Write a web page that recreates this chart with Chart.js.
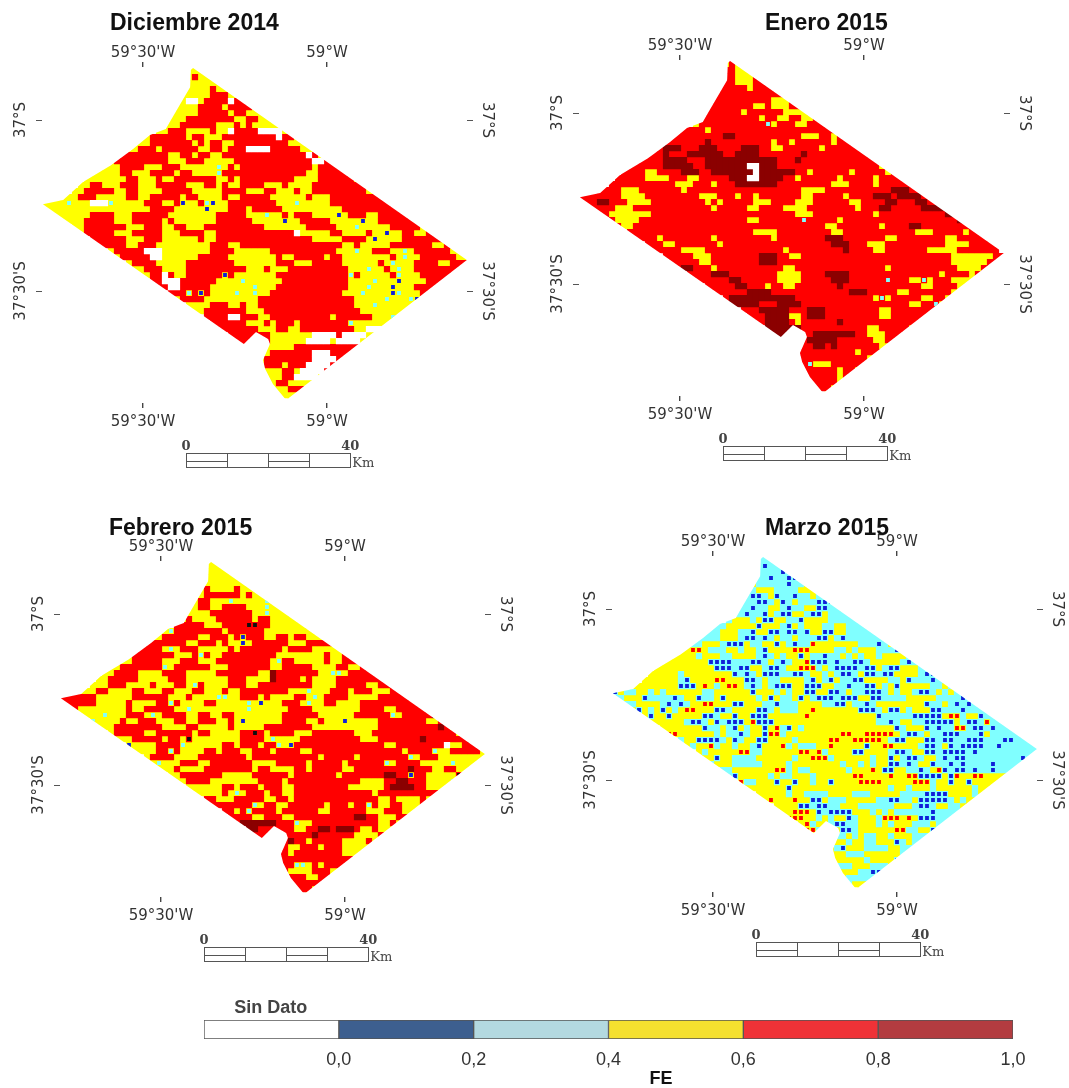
<!DOCTYPE html>
<html>
<head>
<meta charset="utf-8">
<title>FE</title>
<script src="https://cdn.jsdelivr.net/npm/chart.js@4"></script>
<style>
  html, body { margin: 0; background: #fff; }
  canvas { position: absolute; filter: blur(0.5px); }
</style>
</head>
<body>
<canvas id="dic"></canvas>
<canvas id="ene"></canvas>
<canvas id="feb"></canvas>
<canvas id="mar"></canvas>
<canvas id="leyenda"></canvas>
<script>
// axes
const lonTicks = [-59.5, -59];
const lonLabels = ["59°30'W", "59°W"];
const latTicks = [-37, -37.5];
const latLabels = ["37°S", "37°30'S"];

// study area border
const outlineLon = [-59.364, -58.620, -59.111, -59.147, -59.168, -59.174, -59.155, -59.160, -59.193, -59.226, -59.772, -59.717, -59.663, -59.587, -59.527, -59.481, -59.438, -59.424, -59.372, -59.370];
const outlineLat = [-36.848, -37.409, -37.819, -37.772, -37.728, -37.702, -37.655, -37.640, -37.620, -37.655, -37.246, -37.234, -37.181, -37.132, -37.085, -37.044, -37.026, -37.000, -36.904, -36.854];

// raster classes: y 0,4-0,6  r 0,6-0,8  d 0,8-1,0  c 0,2-0,4  b 0,0-0,2  k black  w sin dato
const rasterCodes = ['y', 'r', 'd', 'c', 'b', 'k', 'w'];
const rasterColors = ['#ffff00', '#ff0000', '#8b0000', '#80ffff', '#1020d8', '#101010', '#ffffff'];

// first column of every raster row, shared by the four months
const rowStarts = [24,24,24,24,23,22,22,21,21,20,19,17,15,14,12,11,9,8,7,6,5,3,0,0,2,3,5,6,8,9,11,12,14,15,16,18,19,21,22,24,25,27,28,29,31,32,36,36,36,36,36,37,37,38,39,41];

const decRows = [
"yyyy","yryyy","yyyyyyyy","yyyyryyyy","yyyyyrrryyy","yywwyrrrrwrrr","yyyyrrrryrrrryy","yyyyyrrrrryrryyyy","yyyrrrrrrrryyrryyyy","yyyrrrrrryyyryryyyyyy",
"yyrrryyyyryywrrrrwwwwyy","yrrrrrryrryyyrrrrrrrrrwrryy","yyyrrrrrrryryrryyrrrrrrrrryyyy","yyrrryrrrrrryyrryrrrwwwwrrrrryyy","rrrrrrrrryyrryrryyrrrrrrrrrrrrrrwryy",
"yrrrrrrrrryyyrrryyyyyrrrrrrrrrrrrrwwryy","yyyyrrrryyyrrryyyyyycyryrrrrrrrrrrrryrrrryy","yyyyyrryyyrrrryrryyyycrrrrrrrrrrrrrryyrrrrryy","yyyyyyyrryyyryyrrrrrrryyryrrrrrrrrryyyyrrrrrryy","yyrryyyrrryyyrrrrryyyrryryyrrrryyyryyyyrrrrrrrrryyyyy",
"yyrrrrryyrryyyyrrrrryyyyyrrrryyyrryyyryyrrrrrrrrryyyyy","yyyrrryyyyyrryyrrrrryrryyyyryyrrrrryyyyyyryyyrrrrrrrrryyyyy","yyyycyyywwwcyyyyyrrryyrbyyrcbyyrrrrrrrryyycyyyyyrrrrrrrrrrryyyyy","yyyyyyyyyyyyyyyyyyrrrryyyyybyyyrrryrrrrryyyyyyyyyyrrrrrrrrrryyyyy","yyyyyyrrrryyyrrrrrryyyyyyyyrrrrryyycyyryrrryyyybyrrryyrrrrrryyyyy",
"yyyyrrrrryyyrrrrryryyyyyyyrrrrrryyyyybyyrrrrryyyyybyyrrrrrrryyyyy","yyrrrrrrryyyrrryyrryyyrrrrrrrrrryyyyyyyrrrrryyycyyyyyrrrrryyyyyy","yrrrrryyyrrrrryyyrrrryyrrrrrrrrrrrrrwyyyyyrryyyyryybyyrryyrrrryyyyy","rrrrrryyyrrryyyyyyryyrrrrrrrrrrrrrrrryyyyyrrrrybyyyyrrrrrrryyyyyy","rrrrryyrrryyyyyyyyyrrryyrrrrrrrrrrrrrrrrryyryyyyyrrrrrrryyrrrrrrrr",
"yrrrrrwwwyyyyyyyyrrrryyyyyyrrrrrrrrrrryyycyyrrryycyrrrrrryyrrrrrr","yrrrrrwwyyyyyyrrrrryyyyyyyyryyrrrrryrryyyyyyyyrycyyrrrrrryyyyrrrrrr","yrrrryyyyyrrrrrrrryyyyyyyrrryyyrrrrryyyyyyrycyyyrrrryyrrrrrrrrrrrrrr","yyrrryyyyrrrrrrrrrryyyryyyrrrrrrrrrryyycyyrycyyrrrrrrrrrrrrrrrrrrrrr","yyrrwryyrrrrrrbryyyyyyyrrrrrrrrrrrrcryyyyyrcyyyrrrrrrrrrrrryyyrrrrr",
"rrwwwrrrrrryyyycyyyyyyrrrrrrrrrrryyyycyyybyyyyrrrrrrrrrrrryyrrrrr","rrwwrrrrryyyyyyycyyyrrrrrrrrrrrryyycyyybyyyrrrrrrrrrrrryrrrrr","rrrcrbryyyycyycyyrrrrrrrrrrrryyycyyyybcyyyrrrrrrrryyyrrrr","yrrrryyyyyyyyyrrrrrrrrrrrrrrrryyyyycyyycbyyyrrrryyyrrrr","yyyyrrryyryyrrrrrrrrrrrrrrrryyycyyyyyyrrryyyyyrrrr",
"yyrrrrrrryyyrrrrrrrrrrrrrrrryyyyyyyyrrrryyyyrrrr","rrrrwwrrryyrrrrrrrrrryrrrrrryyycyyyyyrryyrrrr","rrrrrryyyryrrryrrrrrrrrcyyyyyyyyyyyyrrrr","rrrrrrryyyrryyrrrrrrrrryywwwrryyyyyy","rrrrrrryyyyyyywwwwrwwwwyyyyyyy",
"rrrrrryyyyyywwwwywwwwyyyyyy","yyyyyyrrrrrrrrrrryyyyyy","yyrrrrrrrwwwrrrrryyy","yrrrrrrrrwwwwrrryyyy","yrrryrrrwwwwrrrrrr",
"yyyyrrywwwwrrrrrrr","yyyrrwwwwyyyyy","yyrryyyyyyyyyyy","yyyrrryyyy","yyyyy","yyy"
];

const janRows = [
"yryy","rryyy","rryyyrrr","rryyyrrrr","rrrrryrrrrr","yrrrrrrrrrrrr","rrrrrrrrrryyyrr","rrrrrrrryyryyyrrrr","rrrrrryrrrrrryyyyyrr","rrrrrrrrrryrryyrryyrrrr",
"yrrrrrrrrrrrcyrrryyrrrrr","rrrryrrrrrrrrrrrrrrrrrrrrrrr","rrrrrrrrrddrrrrrrrrrrryyyrryrr","rrrrrrrdrrrrrrrrrryrryrrrrrryrrrrr","rrdddrrrdddrrrrdddrryyrrrrrryrrrrrrrrr",
"rrrdrrrddddddrrddddrrrrrrrdrrrrrrrrrrrrrryyrr","rrrrrddddrrrddddddddddddrrrdrrrrrrrrrrrrrrryyrrr","rrrrrrdddddrrdddddddwwdddrrrrrrrrrrrrrrrrryrrrrr","rrrryyrrrrdddrrdddddddwddddddrryrrrrrryrrrrryrrrrrr","rrrrryyyyrrryyrrrrrdddwwddddrryrrrrrryrrrrryrrrrrrr",
"rrrrrrrrrrryyyrrryrrrdddddddrrrrrrrrryyyrrrryrrrrrrrrrrrr","rrrryyyrrrrrrryrrrrrrrrrrrrrrrrrrryyyyrrrrrrrrrrrdddrrrrrrrrrr","rrrrrrryyyyrrrrrrrrryyyrrryrryrrrrrrryyrrrrryrrrrdddrddddrrrrrrrr","rrrddrrryyyyrrrrrrrrryryrrrrryyyrrrryyyrrrrrryyrrrrddrrrddrrrdrrrr","rrrryyyrrrrrrrrrrrrryrrrrryyrrrryyyyrrrrrrrryrrrddrrrrrdddddrrrrr",
"rryyyyyyyrrrrrrrrrrrrrrrrrrrrrrrryyyrrrrrrrrrryrrrrrrrrrrrdddddrrrrr","ryyyyrrrrrrrrrrrrrrrrrryyrrrrrrrcrrrrryrrrrrrrrrrrrrrrrrrrdddddrrrrr","ryyrrrrrrrrrrrrrrrrrrrrrrrrrrrrrrrryyrrrrrrryrrrrddrrrrrrrrrrrrr","rrrrrrrrrrrrrrrrrrrrryyyyrrrrrrrrryyrrrrrrrrrrrryyyrrrrryrrrrr","rrrryrrrrrrrryrrrrrrrrryrrrrrrrrdddrrrrrrryyrrrrrrrryyrrrrrrr",
"rrryyrrrrrrryrrrrrrrrrrrrrrrrrrdddrrryyyrrrrrrrrrryyyyrrrrr","rrrrryyyyrrrrrrrrrrrrryrrrrrrrrrdrrrryyrrrrrrryyyyyrrrrrrr","rrrrryyyrrrrrrrrdddrryyrrrrrrrrrrrrrrrrrrrrrrrrryyyyyyyrrrrr","rrrrryyrrrrrrrrdddrrrrrrrrrrrrrrrrrrrrrrrrrrrrryyyyyyrrrrrr","rddrrryrrrrrrrrrrryyrrrrrrrrrrrrrrryrrrrrrrrrrryyyyrrrrrr",
"rrrrdddrrrrrrrryyyyrrrrddddrrrrrrrrrrrrrrryrrrryrrrrrrr","rrrrrrddrrrrrryyyyrrrrrdddrrrrrrcrrryycyrrryyyyyrrrrrrrr","rrrrrddrrryrryyrrrrrrrdrrrrrrrrrrrrryyrrrryyrrrrrrrrrr","rrrrrrddddrrrrrrrrrrrrrdddrrrrryyrrrrrrryyrrrrrrr","rdddddddddddrrrrrrrrrrrrrycyrrrrryyrryyyrrrrrr",
"dddddrrrddddrrrrrrrrrrrrrrrrrryyrrcyyrrrrrr","rrrdddddrrrdddrrrrrrrrryyrrrrrrrcrrrrrrr","rrrddddyyrdddrrrrrrrrryyrrrrrrrrrrr","rrddddryrrrrrrdrrrrrrrrrrrrrryrrrr","ddddddrrrrrrrrrrryyrrrrryyrrrr",
"dddrrrrdddddddrryyyrrrdrrr","rrdddddrrrrrryyrrr","rrrddrdrrrrrrryyyrr","rrrrrrrrrryrrrrrr","rrrrrrrrrrrryyrr",
"rrcyyyrrrrrrrryr","rrrrrryrryrryr","rrrrrryrryyyr","rrrrryyrr","rrryyyy","yyy"
];

const febRows = [
"yyyy","yyyyy","yyyyyyyy","yyyyyyyyyy","yryyyyryyyyy","yyrrrrrryryycyy","yrryyycyyyyycyyy","yyrryyrrrryyycyyrryy","yyyyrrrrrrryycyyyyrryy","yryyyyrrrrrryrryyyyyryy",
"rrrrryyyrrrrkkrryyyyyyryy","ycrrrrrrrryrrrrrryyyyyyyyycyy","yyrrrrrryyrrryrbrrryyrryrryyyycyy","rrrrrrryyrrryryybyrrrrrryyyrrrrrryyyyy","rrrrrycyrrryyyyyryrrrrrrryrrrryyyyyyrryyyyy",
"yrrrrrrryyyrcryyrrrrrrrrryyyyyyyyryyrrryyyyy","yyyrrrrryyyrrryyyrrrrrrrrrycrryyyyyryyrrrrrrcryyy","yyrrrrrrrcyrrrrrryyyrrrrrrryyrrrrryyyyrryyrrrrryrry","yyrrrryyyyrrrryyyyyrrrrrrryydrrrrrrryyccyrrrrrrrrrrrryy","yyrrrrryyyyyrrryyyyyyyrrryyyydrrrryryyyyrrrrrrrrrryrrrrry",
"yyyrrryyyyryyyrrycryyyyrrryyrrrrrrrrryyyyrrrrryyrrrrryyrrrryy","yyyrryyyyrryyyrryyyrryyyryyrrrrrrrryyycyyyrrryrrryyyrryyrrrrrrryy","rrrrrryyyyyyrrrrrryyyryyyyccyyrrryryyyyrrycyrrrryyyyyrrrrrrrrrdyrdrrr","rrrrrryyyyyryyyyrrcryyyyrryyyyycybyyyrrrycyyrryyyyrrrrrrrrrrrrdkyyrrrr","ryyyyyyyyryyrrrrryycyyyyyyyyycyyyyyyrrrryyyyyyyyrrrryyrrrrrrrddrrrrr",
"yyyycyyyrrrycyrrrryyrryyrryyyyyyyyrrrrrryyyyyyrrrrrrcyrrrrrdddrrryrrr","cyyyyryyrrryyyrryyrrryyrybyyyyyyrrrryyryyybyyyyyrrrrrrrryyrrddrryrrr","yyyrrrrrrrryyyyrryyyyyryyyyyrrrrrrrryyyyyyyyyyyrrrrrrrrrrdryrrryyrrrr","yrrrrryyrrrrrryrryyyyyrrkryrrrryyyrrrrrrryyyrrrrrrrrrrrrrryrrddrr","yyyrrrrryrrykyyyyyyyyrrrrycyyyyrrrrrrrrrryyyrrrrrrrdrrrrrrrddrrr",
"byyyyrrrrcyyyyyyrryrrryrrcybrrrrrrrrrrrrrrryyrrrrrrrrwyyrrrrrrrrrr","yyyyrrcryyyyrryrrryyrrryrrrryyrrrrrrrrrrrrrrryrrrrcyyrrrrryyrrrrrr","yrrrryyyyrrrrrrrryrrrrrrrrrrryrrrrryrrrrrrrrcyrrryyyyyyyyyyrryrrrrr","ycyyyrrryyrrrrrrryyyyrrrrryrrrrryrrrrrrcyrrrryyyyycyyyyyrrryyrrrrr","yyyryyyyrrrrrrrryrryyyyrryrrrrryyrrrrrrrrrdrrryyrryyyyyyrryrrrr",
"yyrrrrrrryyyyyrrrrrryrrrrrrryrrrrrrrddrrbrryyyyykyyyyyyryyrrr","yyrrrryyyyyyyyrrrryrrrrrrrrrrrryyyyrrddrrryyyycyyyyyyyyrrrr","yyyyyyrryrrryrrryyrrrrrrrrryyyyyyrddddrryyyyyyyyyrrrrrrr","yyyyyrycyrrryrryyrrrrrrrrrrrrryrrrrrrrrrryyryrrrrrrrrrrr","rryyyrrrrryyrryrrrrrrrrrrrrrryyryyyyrycrryrrrrrrrrr",
"rrrrrrrcyrryyrrrrrryrrryrrcryyrryyyrycyyryyyrrrrrr","rryrcrrrryrrrrrryyrrrrrryyyrrryyyrcyyyrryyrrr","rrrryyrrryyrrrrrrrrrrddrryyyrryyyryyycyyryrr","rddddddrrrcyyrrrrrrrrrrryyryyrryrrrcyrrr","ddrrrrrryyrrddrdddryyryyyryyryyyrr",
"rrrrrrrrrrdrrrrrryyyyryyyryyr","rrdrryrrrrryyyyryyyyr","rryyrrryrrryyyycyyyy","rryrrrrrrrryyycyyy","rrrrrrrrrrrrrryyy",
"rrrccyryrrrrrrrr","ryyyyrrryyrrrrr","rrrryyrrryyyyy","rrrrrrryyycyy","rrryrrycy","cyy"
];

const marRows = [
"cccc","cbccc","ccccbbcc","ccbccbbccc","ycccccbccyyc","ccyyyccccyyyyccc","cbbcybccbccyccccc","cccbbcybcycccbbbcyccc","ccbccyycbccyybbccyccc","ccbccbycbbyycbbyccccccccc",
"cyyycybbyyccbyyyycccccccc","ccyyyyybyyycbycyyyccyyccccbccc","cccyyyccbyybbcbbcbyybbyycccccccccc","ccccyyycbbcbcyccycccbbycbcccccccccccc","cccyyycbbbyccyybycbccryyyyyyycccbcycccccc",
"yyrrycccyycyycbyyyyrrryyyyccycyyycccbbccccc","yyyyycyyyccyyyycbcycyybyccbccycycyycyyyybbccccc","yyyyyyyybbbbcccbbcycbcyyrbbbcbccbbcyyyyycbcybcccc","yyyyyyyyyybbbcbbyycbbcyyrrrcycbbbbcbbycbbyyycbbbcbccc","yyyyycyyyyyyyybcbcybbbccbbcyycycbbcybbcbbyyyycbbbcccccccc",
"yyyyyycbyyyyrryyybbcyccyyyycbycbyccbbyyyyccybcccbcccccccc","yyyyyyyybbbyrycyrrycbcycbbbyybbbyyccbccbbycybyyyyyccyccccccccc","byccyycycyyyyyyccyyyyyybyyycycyybbyybbcyccbbbcycyycbbcycyccccccc","ccyyybccccbcyybccybyyyyycybyccybycbbbcbbbyybbccccyyyyyccccbccccccc","ccyyyycbcbcyyrryyybbyyyccbcccyyyyccbbyccbcyyyyyyyybccycbcbcccccc",
"ybycybycyrryyybbcyyyybbcycccyyryyyyyyybbbcybbycyyybbcccbcccccccc","ybyybyyyyybbcyybyybbbyyyyyyryyyyyyyyyyybcccccbbbbbyrrcyybccccccc","yyyyyycbbcybcbbbyrbbbyyyyyyyyyyyyyyyyyccbcyyccbbbbbycbbcrcccccc","yyyyyyybccycbycyybyrcbycyyyyyyyyyyyyyyybcyyybcbccrrcbbcbcccccccc","rryyyyyycyccbcyybrrcyyyyyyyyyrryyrrrrrycbbcyccbbbcccbycccccccc",
"cyybbbbcybcyybbyyyycyyyyyrryyrrrrrycbbyyybbcbbccbbbcccbbcccccccc","ycyyrcyycyycbyyyrcycccyyryyyyybyyrryyyycbbcybcbbbbccbcccccccccc","ycyyyyyrrccyyyyyyrryrcyyyybbyyyycbbcyybbcbbbbcbccccccccccccc","yybyyccccyyyyyycyyrrrcyyyyyycyybycbbcyycbcbbcccccccccbcccccc","cyyycccccyyyycyyyyyyyycyycycyybbcbcyybccbcbccccbccccccc",
"ccyyyyyyyrrcyccyyyyyycyyyrybbyyccbcyrbcbbcbccbcccccc","cbyyyyycyccyyycyyyyyyrryyyyryyrrbbbbybryyrryyyyyyccc","rccyyybyybyycyybyyyyrrrryyyyyrrrcyybyybyyyyycccc","yyyyyyybyyyyyyyyyyyyyyyycyycyyycyyyyyycyyyyy","yyyyycyyccccyyyycccyyyyyccccbbbbyyyycyyyyyy",
"yryyyryybbycccyyyyyccbbccybbbbbcycyyyyy","yyyybbcbbccyyyccccccyyycbbcyyccyyyyy","yyrrrybcbbbbyyycycyccccccbcccccyyy","rrryycycyybcyyycrrryrybbbccccyy","yrcyycbbccyyycycyyycccyccccyy",
"rrcccybbcyyyyyyrrccyybbbbcc","yccycyccyycyyycccc","cyycyyccyyybcycc","ycbyyyccccyyccbc","yyycccyyyyyycyy",
"yyyyyycyyyybyy","cccyyycccyyyy","cyyyccbbcyyy","ycccccyyyy","cyyyyyy","yyy"
];

// colour bar
const legendEdges = [-0.2, 0, 0.2, 0.4, 0.6, 0.8, 1];
const legendColors = ['#ffffff', '#3d5f8f', '#b3d9e0', '#f5e02f', '#ef3237', '#b33c40'];
const legendTicks = [0, 0.2, 0.4, 0.6, 0.8, 1];

// scale bar
const scaleKm = [0, 10, 20, 30, 40];
const kmPerLon = 89.7;

const lonMin = -59.7745, lonMax = -58.6196, latMax = -36.845, latMin = -37.8275;
const gridLon0 = -59.7745, gridLat0 = -36.848, cellLon = 0.016304, cellLat = 0.017544;
const barLon = -59.383, barLatTop = -37.974, barLatBottom = -38.015;

const tickFont = { family: '"DejaVu Sans"', size: 15 };
const marginLeft = 42, marginTop = 62, marginRight = 45, marginBottom = 90;
const cellRadius = 4.4, speckRadius = 2.7;

// specks are smaller than a cell and sit on the class named here
function cellsOf(rows, code, specks) {
  const pts = [];
  rows.forEach((row, r) => {
    for (let i = 0; i < row.length; i++) {
      if (row[i] === code || specks[row[i]] === code) {
        pts.push({ x: gridLon0 + (rowStarts[r] + i + 0.5) * cellLon, y: gridLat0 - (r + 0.5) * cellLat });
      }
    }
  });
  return pts;
}

// cut the cells along the study area border
const clipOutline = {
  id: 'clipOutline',
  beforeDatasetsDraw(chart) {
    const { ctx, scales } = chart;
    ctx.save();
    ctx.beginPath();
    outlineLon.forEach((lon, i) => {
      ctx.lineTo(scales.bottom.getPixelForValue(lon), scales.left.getPixelForValue(outlineLat[i]));
    });
    ctx.closePath();
    ctx.clip();
  },
  afterDatasetsDraw(chart) {
    chart.ctx.restore();
  }
};

const mapExtras = {
  id: 'mapExtras',
  afterDraw(chart, args, opts) {
    const { ctx, scales } = chart;
    ctx.save();
    // scale bar
    const xs = scaleKm.map(km => scales.bottom.getPixelForValue(barLon + km / kmPerLon));
    const top = Math.round(scales.left.getPixelForValue(barLatTop)) + 0.5;
    const bottom = Math.round(scales.left.getPixelForValue(barLatBottom)) + 0.5;
    const mid = Math.round((top + bottom) / 2) + 0.5;
    ctx.strokeStyle = '#555';
    ctx.lineWidth = 1;
    for (let i = 0; i < xs.length - 1; i++) {
      ctx.strokeRect(Math.round(xs[i]) + 0.5, top, Math.round(xs[i + 1]) - Math.round(xs[i]), bottom - top);
      if (i % 2 === 0) {
        ctx.beginPath();
        ctx.moveTo(xs[i], mid);
        ctx.lineTo(xs[i + 1], mid);
        ctx.stroke();
      }
    }
    ctx.fillStyle = '#444';
    ctx.textBaseline = 'alphabetic';
    ctx.textAlign = 'center';
    ctx.font = 'bold 13px "DejaVu Serif"';
    ctx.fillText('0', xs[0], top - 4);
    ctx.fillText('40', xs[xs.length - 1], top - 4);
    ctx.textAlign = 'left';
    ctx.font = '13px "DejaVu Serif"';
    ctx.fillText('Km', xs[xs.length - 1] + 2, bottom - 1);
    // month title
    ctx.fillStyle = '#111';
    ctx.textBaseline = 'middle';
    ctx.font = 'bold 23px "Liberation Sans"';
    ctx.fillText(opts.title, opts.titleX, opts.titleY);
    ctx.restore();
  }
};

function lonAxis(position) {
  return {
    type: 'linear',
    position: position,
    min: lonMin,
    max: lonMax,
    afterBuildTicks: s => { s.ticks = lonTicks.map(v => ({ value: v })); },
    afterFit: s => { s.height = position === 'top' ? marginTop : marginBottom; },
    grid: { drawOnChartArea: false, tickLength: 5, color: '#444', lineWidth: 1.4 },
    border: { display: false },
    ticks: {
      autoSkip: false, maxRotation: 0, padding: position === 'top' ? 0 : 5, color: '#333', font: tickFont,
      callback: v => lonLabels[lonTicks.indexOf(v)]
    }
  };
}

function latAxis(position) {
  const left = position === 'left';
  return {
    type: 'linear',
    position: position,
    min: latMin,
    max: latMax,
    afterBuildTicks: s => { s.ticks = latTicks.map(v => ({ value: v })); },
    afterFit: s => { s.width = left ? marginLeft : marginRight; },
    grid: { drawOnChartArea: false, tickLength: 6, color: '#555', lineWidth: 1 },
    border: { display: false },
    ticks: {
      autoSkip: false, crossAlign: 'center', padding: left ? -15 : -16,
      minRotation: left ? 90 : -90, maxRotation: left ? 90 : 0,
      color: '#333', font: tickFont,
      callback: v => latLabels[latTicks.indexOf(v)]
    }
  };
}

function drawMap(id, rows, specks, title, tickX, tickY, titleX, titleY) {
  const canvas = document.getElementById(id);
  const w = marginLeft + 425 + marginRight, h = marginTop + 336 + marginBottom;
  const canvasLeft = tickX - 101 - marginLeft, canvasTop = tickY - 53 - marginTop;
  canvas.width = w;
  canvas.height = h;
  canvas.style.width = w + 'px';
  canvas.style.height = h + 'px';
  canvas.style.left = canvasLeft + 'px';
  canvas.style.top = canvasTop + 'px';
  return new Chart(canvas, {
    type: 'scatter',
    data: {
      datasets: rasterCodes.map((code, i) => ({
        label: code,
        data: cellsOf(rows, code, specks),
        xAxisID: 'bottom',
        yAxisID: 'left',
        pointStyle: 'rect',
        pointRadius: specks[code] ? speckRadius : cellRadius,
        pointBorderWidth: 0,
        backgroundColor: rasterColors[i],
        order: rasterCodes.length - i
      }))
    },
    options: {
      responsive: false,
      animation: false,
      events: [],
      layout: { padding: 0 },
      plugins: {
        legend: { display: false },
        tooltip: { enabled: false },
        mapExtras: { title: title, titleX: titleX - canvasLeft, titleY: titleY - canvasTop }
      },
      scales: { top: lonAxis('top'), bottom: lonAxis('bottom'), left: latAxis('left'), right: latAxis('right') }
    },
    plugins: [clipOutline, mapExtras]
  });
}

drawMap('dic', decRows, { b: 'y', c: 'y', k: 'y' }, 'Diciembre 2014', 143, 120, 110, 24);
drawMap('ene', janRows, { b: 'r', c: 'r', k: 'r' }, 'Enero 2015', 680, 113, 765, 24);
drawMap('feb', febRows, { b: 'y', c: 'y', k: 'r' }, 'Febrero 2015', 161, 614, 109, 529);
drawMap('mar', marRows, { b: 'c', r: 'y' }, 'Marzo 2015', 713, 609, 765, 529);

// colour bar at the bottom
const legendCanvas = document.getElementById('leyenda');
legendCanvas.width = 860;
legendCanvas.height = 88;
legendCanvas.style.cssText = 'left:190px;top:1000px;width:860px;height:88px';

const legendText = {
  id: 'legendText',
  afterDraw(chart) {
    const { ctx, scales } = chart;
    ctx.save();
    ctx.textAlign = 'center';
    ctx.textBaseline = 'middle';
    ctx.font = 'bold 18px "Liberation Sans"';
    ctx.fillStyle = '#444';
    ctx.fillText('Sin Dato', scales.x.getPixelForValue(-0.101), 8);
    ctx.fillStyle = '#111';
    ctx.fillText('FE', scales.x.getPixelForValue(0.478), 79);
    ctx.restore();
  }
};

new Chart(legendCanvas, {
  type: 'bar',
  data: {
    labels: ['FE'],
    datasets: legendColors.map((color, i) => ({
      data: [[legendEdges[i], legendEdges[i + 1]]],
      backgroundColor: color,
      borderColor: '#555',
      borderWidth: 1,
      borderSkipped: false,
      barPercentage: 1,
      categoryPercentage: 1
    }))
  },
  options: {
    indexAxis: 'y',
    responsive: false,
    animation: false,
    events: [],
    layout: { padding: { left: 14, right: 37, top: 20, bottom: 0 } },
    plugins: { legend: { display: false }, tooltip: { enabled: false } },
    datasets: { bar: { grouped: false } },
    scales: {
      y: { display: false },
      x: {
        type: 'linear',
        min: legendEdges[0],
        max: 1,
        afterBuildTicks: s => { s.ticks = legendTicks.map(v => ({ value: v })); },
        afterFit: s => { s.height = 49; },
        grid: { display: false },
        border: { display: false },
        ticks: {
          autoSkip: false, maxRotation: 0, padding: 2, color: '#333',
          font: { family: '"Liberation Sans"', size: 18 },
          callback: v => v.toFixed(1).replace('.', ',')
        }
      }
    }
  },
  plugins: [legendText]
});
</script>
</body>
</html>
